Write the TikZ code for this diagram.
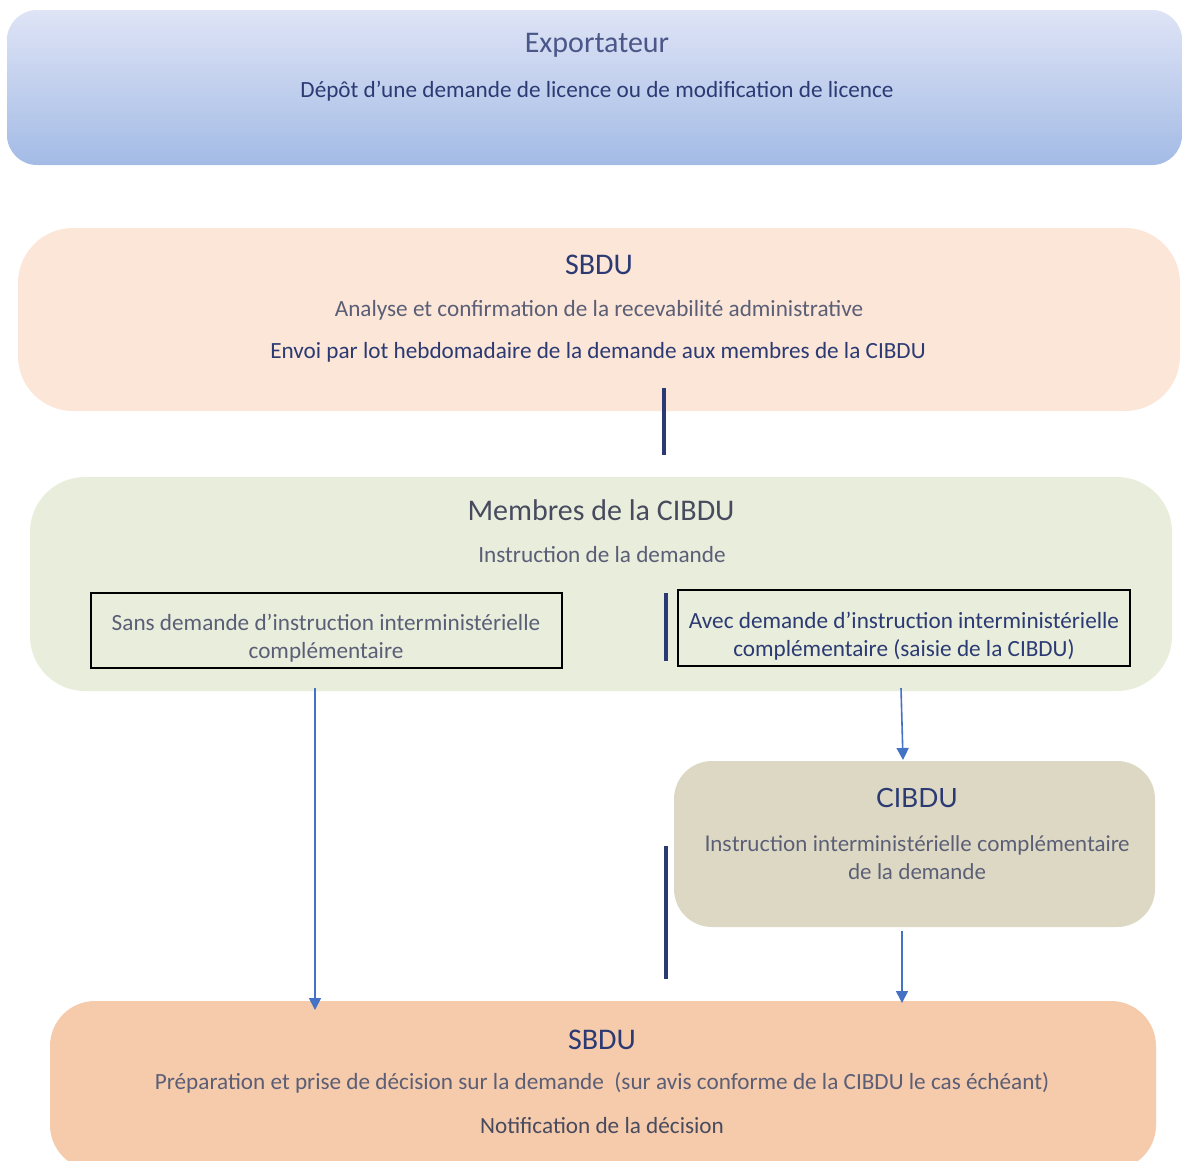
\documentclass[tikz,border=0pt]{standalone}
\usepackage{fontspec}
\setmainfont{Carlito}
\newfontfamily\marfont{Lato}
\usetikzlibrary{arrows.meta}
\definecolor{navy}{HTML}{2B3A73}
\definecolor{txtgray}{HTML}{5A5E76}
\definecolor{arrowblue}{HTML}{4472C4}
\definecolor{exptop}{HTML}{DFE4F6}
\definecolor{expbot}{HTML}{A3BBE5}
\definecolor{peachlight}{HTML}{FCE6D8}
\definecolor{greenlight}{HTML}{E9EEDC}
\definecolor{sand}{HTML}{DDD8C3}
\definecolor{peach}{HTML}{F6CBAB}
\begin{document}
\begin{tikzpicture}[x = 1pt, y = -1pt,
  box/.style = {rounded corners = 45pt, inner sep = 0pt},
  subbox/.style = {draw = black, line width = 2pt, inner sep = 0pt},
  title/.style = {font = \fontsize{30}{34}\selectfont, inner sep = 0pt},
  line/.style = {font = \fontsize{23.2}{28}\selectfont, inner sep = 0pt, align = center},
  bar/.style = {navy, line width = 4pt},
  arrow/.style = {arrowblue, line width = 1.6pt, -{Triangle[length = 12pt, width = 12pt]}}]
  \useasboundingbox (0, 0) rectangle (1182, 1160);

  % Exportateur
  \node[box, rounded corners = 30pt, top color = exptop, bottom color = expbot,
        minimum width = 1175pt, minimum height = 155pt] (export) at (594.5, 87.5) {};
  \node[title, text = navy!85] (exporttitle) at (597, 45) {Exportateur};
  \node[line, text = navy] (exportline) at (597, 91)
        {Dépôt d’une demande de licence ou de modification de licence};

  % SBDU (recevabilite)
  \node[box, rounded corners = 55pt, fill = peachlight,
        minimum width = 1162pt, minimum height = 183pt] (sbdu) at (599, 319.5) {};
  \node[title, text = navy] (sbdutitle) at (599, 265) {SBDU};
  \node[line, text = txtgray] (sbduline) at (599, 310)
        {Analyse et confirmation de la recevabilité administrative};
  \node[line, text = navy] (sbdusend) at (598, 352)
        {Envoi par lot hebdomadaire de la demande aux membres de la CIBDU};
  \draw[bar] (664, 388) -- (664, 455);

  % Membres de la CIBDU
  \node[box, rounded corners = 55pt, fill = greenlight,
        minimum width = 1142pt, minimum height = 214pt] (membres) at (601, 584) {};
  \node[title, text = txtgray!80!black] (membrestitle) at (601, 510) {Membres de la CIBDU};
  \node[line, text = txtgray] (membresline) at (602, 555) {Instruction de la demande};
  \node[subbox, minimum width = 471pt, minimum height = 75pt] (sans) at (326.5, 630.5) {};
  \node[line, text = txtgray] (sanstext) at (326, 638)
        {Sans demande d’instruction interministérielle\\complémentaire};
  \node[subbox, minimum width = 452pt, minimum height = 76pt] (avec) at (904, 628) {};
  \node[line, text = navy] (avectext) at (904, 636)
        {Avec demande d’instruction interministérielle\\complémentaire (saisie de la CIBDU)};
  \draw[bar] (666, 593) -- (666, 661);

  % CIBDU
  \node[box, rounded corners = 38pt, fill = sand,
        minimum width = 481pt, minimum height = 166pt] (cibdu) at (914.5, 844) {};
  \node[title, text = navy, font = \marfont\fontsize{26.5}{30}\selectfont]
        (cibdutitle) at (917, 798) {CIBDU};
  \node[line, text = txtgray, font = \marfont\fontsize{21.6}{28}\selectfont]
        (cibduline) at (917, 858)
        {Instruction interministérielle complémentaire\\de la demande};
  \draw[bar] (666, 846) -- (666, 979);

  % SBDU (decision)
  \node[box, rounded corners = 45pt, fill = peach,
        minimum width = 1106pt, minimum height = 169pt] (decision) at (603, 1085.5) {};
  \node[title, text = navy] (decisiontitle) at (602, 1040) {SBDU};
  \node[line, text = txtgray] (decisionline) at (602, 1083)
        {Préparation et prise de décision sur la demande ~(sur avis conforme de la CIBDU le cas échéant)};
  \node[line, text = txtgray!80!black] (notifline) at (602, 1126) {Notification de la décision};

  % fleches
  \coordinate (sansout) at (315, 688);
  \coordinate (decisionleft) at (315, 1010);
  \coordinate (avecout) at (901, 688);
  \coordinate (cibduin) at (903, 760);
  \coordinate (cibduout) at (902, 931);
  \coordinate (decisionright) at (902, 1003);
  \draw[arrow] (sansout) -- (decisionleft);
  \draw[arrow] (avecout) -- (cibduin);
  \draw[arrow] (cibduout) -- (decisionright);
\end{tikzpicture}
\end{document}
